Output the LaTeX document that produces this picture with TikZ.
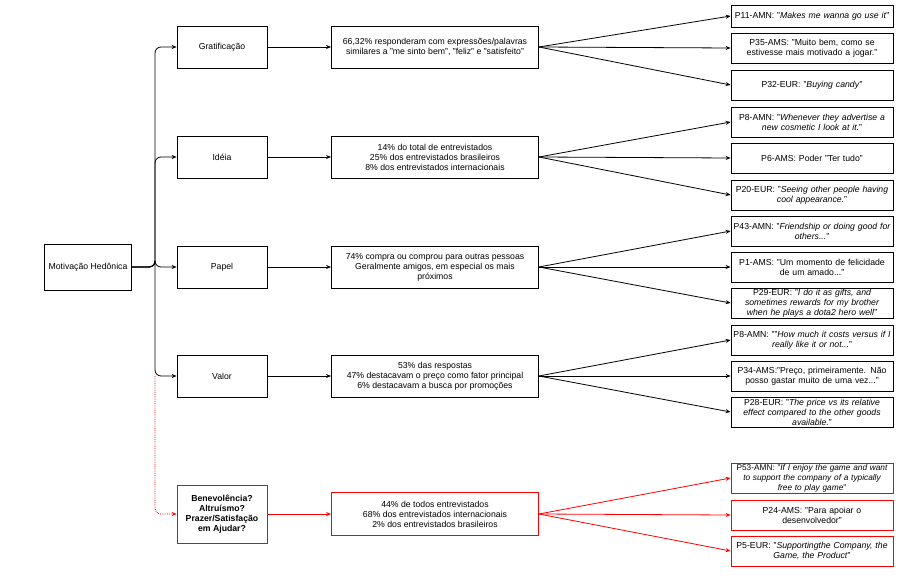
\documentclass[tikz,border=0pt]{standalone}
\usepackage{fontspec}
\setmainfont{Liberation Sans}
\usetikzlibrary{arrows.meta}

\begin{document}
\begin{tikzpicture}[
  x=1pt, y=-1pt, line width=0.8pt,
  every node/.style={font=\fontsize{8.7}{10}\selectfont},
  box/.style={draw=black, rectangle, align=center, inner sep=1pt},
  redbox/.style={box, draw=red},
  cat/.style={box, minimum width=90, minimum height=42},
  fact/.style={box, minimum width=207, minimum height=42},
  quote/.style={box, minimum width=162, minimum height=30, text width=158,
    execute at begin node={\hyphenpenalty=10000\exhyphenpenalty=10000}},
  link/.style={draw=black, -{Stealth[length=5pt,width=4pt]}},
  redlink/.style={link, draw=red, -{Stealth[length=5pt,width=4pt,red]}},
  branch/.style={link, rounded corners=6pt}
]
\useasboundingbox (0,0) rectangle (917,583);

% Root
\node[box, minimum width=87, minimum height=46] (root) at (88,267) {Motivação Hedônica};

%% CATEGORIES
\node[cat] (grat) at (222,47) {Gratificação};
\node[cat] (ideia) at (222,157) {Idéia};
\node[cat] (papel) at (222,267) {Papel};
\node[cat] (valor) at (222,376) {Valor};
\node[cat, redbox, minimum height=58, font=\fontsize{8.7}{10}\selectfont\bfseries] (bene) at (222,514) {Benevolência?\\Altruísmo?\\Prazer/Satisfação\\em Ajudar?};

%% FACTS
\node[fact] (f_grat) at (435,47) {66,32\% responderam com expressões/palavras\\similares a "me sinto bem", "feliz" e "satisfeito"};
\node[fact] (f_ideia) at (435,157) {14\% do total de entrevistados\\25\% dos entrevistados brasileiros\\8\% dos entrevistados internacionais};
\node[fact] (f_papel) at (435,267) {74\% compra ou comprou para outras pessoas\\Geralmente amigos, em especial os mais\\próximos};
\node[fact] (f_valor) at (435,376) {53\% das respostas\\47\% destacavam o preço como fator principal\\6\% destacavam a busca por promoções};
\node[fact, redbox, minimum height=43] (f_bene) at (435,514) {44\% de todos entrevistados\\68\% dos entrevistados internacionais\\2\% dos entrevistados brasileiros};

%% QUOTES
\node[quote, minimum height=22] (q11) at (812,16) {P11-AMN: "\textit{Makes me wanna go use it}"};
\node[quote] (q12) at (812,48) {P35-AMS: "Muito bem, como se\\estivesse mais motivado a jogar."};
\node[quote] (q13) at (812,85) {P32-EUR: "\textit{Buying candy}"};
\node[quote] (q21) at (812,122) {P8-AMN: "\textit{Whenever they advertise a\\new cosmetic I look at it.}"};
\node[quote] (q22) at (812,158) {P6-AMS: Poder "Ter tudo"};
\node[quote] (q23) at (812,195) {P20-EUR: "\textit{Seeing other people having\\cool appearance.}"};
\node[quote] (q31) at (812,231) {P43-AMN: "\textit{Friendship or doing good for\\others...}"};
\node[quote] (q32) at (812,267) {P1-AMS: "Um momento de felicidade\\de um amado..."};
\node[quote, inner sep=0pt] (q33) at (812,303) {P29-EUR: "\textit{I do it as gifts, and\\sometimes rewards for my brother\\when he plays a dota2 hero well}"};
\node[quote] (q41) at (812,340) {P8-AMN: ""\textit{How much it costs versus if I\\really like it or not...}"};
\node[quote] (q42) at (812,376) {P34-AMS:"Preço, primeiramente. Não\\posso gastar muito de uma vez..."};
\node[quote, inner sep=0pt] (q43) at (812,412) {P28-EUR: "\textit{The price vs its relative\\effect compared to the other goods\\available.}"};
\node[quote, redbox, inner sep=0pt, font=\fontsize{8.3}{10}\selectfont] (q51) at (812,478) {P53-AMN: "\textit{If I enjoy the game and want\\to support the company of a typically\\free to play game}"};
\node[quote, redbox] (q52) at (812,515) {P24-AMS: "Para apoiar o\\desenvolvedor"};
\node[quote, redbox] (q53) at (812,551) {P5-EUR: "\textit{Supportingthe Company, the\\Game, the Product}"};

%% BRANCHES
\coordinate (fork) at (155,267);
\foreach \c in {grat, ideia, papel, valor}
  \draw[branch] (root.east) -| (fork) |- (\c.west);
\draw[redlink, densely dotted, rounded corners=6pt] (155,376) |- (bene.west);

%% CATEGORY -> FACT
\foreach \c/\f in {grat/f_grat, ideia/f_ideia, papel/f_papel, valor/f_valor}
  \draw[link] (\c) -- (\f);
\draw[redlink] (bene) -- (f_bene);

%% FACT -> QUOTES
\foreach \f/\a/\b/\d in {f_grat/q11/q12/q13, f_ideia/q21/q22/q23, f_papel/q31/q32/q33, f_valor/q41/q42/q43}
  \foreach \q in {\a,\b,\d}
    \draw[link] (\f.east) -- (\q.west);
\foreach \q in {q51,q52,q53}
  \draw[redlink] (f_bene.east) -- (\q.west);

\end{tikzpicture}
\end{document}
